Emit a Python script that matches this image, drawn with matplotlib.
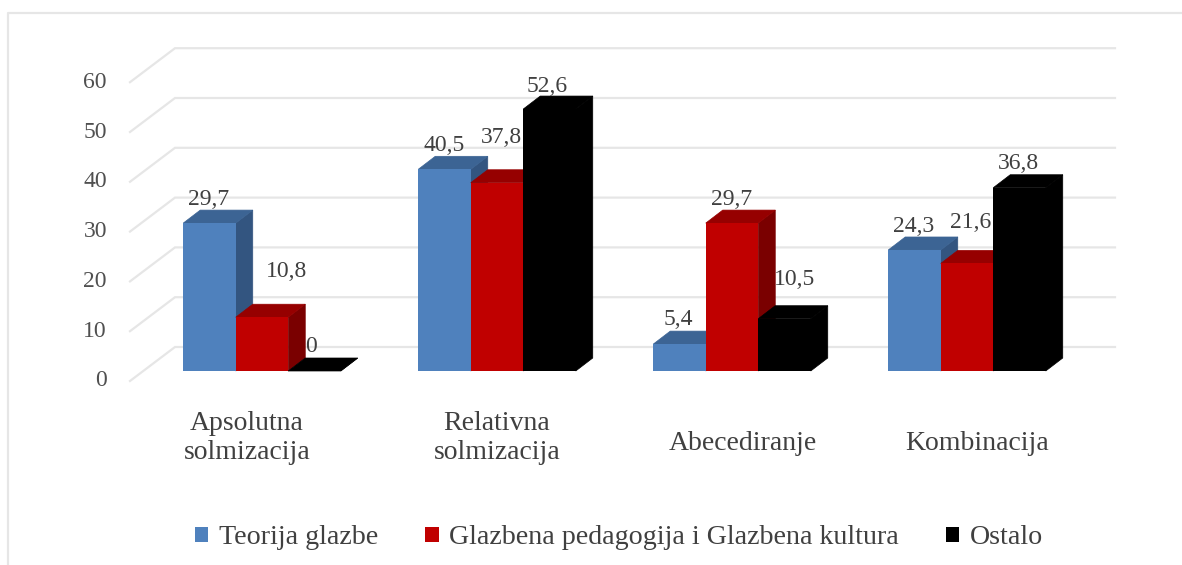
import matplotlib
matplotlib.use("Agg")
import matplotlib.pyplot as plt
from matplotlib.patches import Polygon, Patch

categories = ["Apsolutna\nsolmizacija", "Relativna\nsolmizacija", "Abecediranje", "Kombinacija"]
series_names = ["Teorija glazbe", "Glazbena pedagogija i Glazbena kultura", "Ostalo"]
teorija = [29.7, 40.5, 5.4, 24.3]
pedagogija = [10.8, 37.8, 29.7, 21.6]
ostalo = [0, 52.6, 10.5, 36.8]
value_labels = [["29,7", "40,5", "5,4", "24,3"],
                ["10,8", "37,8", "29,7", "21,6"],
                ["0", "52,6", "10,5", "36,8"]]
y_ticks = [0, 10, 20, 30, 40, 50, 60]

front_colors = ["#4f81bd", "#c00000", "#000000"]
top_colors = ["#3c6494", "#960000", "#000000"]
side_colors = ["#335580", "#7a0000", "#000000"]
label_nudges = [[(-1, 24), (0, 24), (-1, 25), (-1, 23)],
                [(25, 46), (4, 45), (0, 24), (4, 41)],
                [(-3, 25), (-2, 23), (10, 39), (-1, 24)]]
cat_nudges = [-15, 0, 11, 10]

W, H = 1182, 565
PX_Y = 4.98            # pixels per value unit
PX_X = 235.0           # pixels per category
X0, Y0 = 262.0, 371.0  # pixel position of first category / front floor
fig = plt.figure(figsize=(W / 100, H / 100), dpi=100)
ax = fig.add_axes([0, 0, 1, 1])
ax.set_xlim(-X0 / PX_X, (W - X0) / PX_X)
ax.set_ylim(-(H - Y0) / PX_Y, Y0 / PX_Y)
ax.axis("off")
plt.rcParams["font.family"] = ["Liberation Serif", "DejaVu Serif"]
txt = "#404040"

def dx(p): return p / PX_X
def dy(p): return p / PX_Y

# outer chart frame
ax.plot([dx(8 - X0), dx(8 - X0), dx(W - X0)], [-(H - Y0) / PX_Y, dy(Y0 - 13), dy(Y0 - 13)],
        color="#e6e6e6", lw=1.6, zorder=0, clip_on=False)

# gridlines on the back wall with slanted side wall
for v in y_ticks:
    ax.plot([dx(130 - X0), dx(175 - X0), dx(1115 - X0)],
            [v + dy(-10), v + dy(24), v + dy(24)],
            color="#e6e6e6", lw=1.6, zorder=1, solid_joinstyle="miter")
    ax.text(dx(107 - X0), v + dy(-10), str(v), ha="right", va="center",
            fontsize=17, color="#505050", zorder=6)

bar_w = 52.5 / PX_X
depth_x, depth_y = dx(17), dy(13)
all_series = [teorija, pedagogija, ostalo]
z = 2
for c in range(len(categories)):
    for s, vals in enumerate(all_series):
        v = vals[c]
        left = c + (s - 1.5) * bar_w
        right = left + bar_w
        ax.add_patch(Polygon([(right, 0), (right + depth_x, depth_y),
                              (right + depth_x, v + depth_y), (right, v)],
                             closed=True, fc=side_colors[s], ec=side_colors[s], lw=0.5, zorder=z))
        ax.add_patch(Polygon([(left, v), (left + depth_x, v + depth_y),
                              (right + depth_x, v + depth_y), (right, v)],
                             closed=True, fc=top_colors[s], ec=top_colors[s], lw=0.5, zorder=z))
        ax.bar(left, v, width=bar_w, align="edge", color=front_colors[s], zorder=z + 0.5)
        z += 1

for s, vals in enumerate(all_series):
    for c, v in enumerate(vals):
        nx, ny = label_nudges[s][c]
        ax.text(c + (s - 1) * bar_w + dx(nx), v + dy(ny), value_labels[s][c],
                ha="center", va="center", fontsize=17, color=txt, zorder=50)

for c, name in enumerate(categories):
    two = "\n" in name
    ax.text(c + dx(cat_nudges[c]), dy(371 - (438 if two else 443)), name, ha="center", va="center",
            fontsize=20, color=txt, linespacing=1.25, zorder=50)

handles = [Patch(fc=col, ec="none") for col in front_colors]
ax.legend(handles, series_names, ncol=3, frameon=False, loc="center",
          bbox_to_anchor=(619 / W, 1 - 538 / H), fontsize=20.2, labelcolor=txt,
          handlelength=0.47, handleheight=0.47, handletextpad=0.36, columnspacing=1.7)
fig.savefig("out.png", dpi=100, facecolor="white")
